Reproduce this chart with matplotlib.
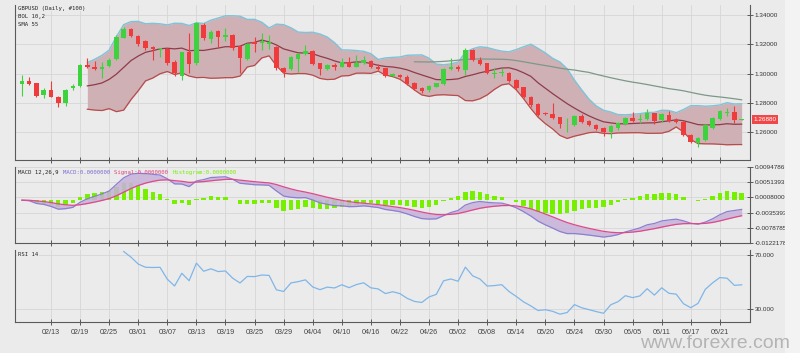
import numpy as np
import pandas as pd
import matplotlib
matplotlib.use('Agg')
import matplotlib.pyplot as plt
from matplotlib.patches import Rectangle
from matplotlib.ticker import FixedLocator, FuncFormatter

# ---------------- data ----------------
opens = [1.2927, 1.2951, 1.2933, 1.2854, 1.2888, 1.2842, 1.2797, 1.2900, 1.2915, 1.3058,
         1.3046, 1.3031, 1.3053, 1.3097, 1.3244, 1.3301, 1.3257, 1.3223, 1.3178, 1.3165,
         1.3165, 1.3080, 1.2983, 1.3144, 1.3070, 1.3330, 1.3233, 1.3291, 1.3250, 1.3262,
         1.3187, 1.3099, 1.3214, 1.3211, 1.3201, 1.3182, 1.3036, 1.3029, 1.3097, 1.3131,
         1.3153, 1.3070, 1.3029, 1.3060, 1.3046, 1.3078, 1.3046, 1.3073, 1.3087, 1.3046,
         1.3036, 1.2983, 1.2988, 1.2974, 1.2933, 1.2900, 1.2888, 1.2911, 1.2929, 1.3029,
         1.3046, 1.3024, 1.3160, 1.3092, 1.3070, 1.2997, 1.3001, 1.3005, 1.2956, 1.2906,
         1.2842, 1.2793, 1.2734, 1.2723, 1.2702, 1.2662, 1.2650, 1.2713, 1.2677, 1.2650,
         1.2628, 1.2600, 1.2628, 1.2657, 1.2696, 1.2682, 1.2689, 1.2729, 1.2684, 1.2718,
         1.2684, 1.2672, 1.2582, 1.2526, 1.2548, 1.2628, 1.2689, 1.2734, 1.2740, 1.2686]
highs = [1.2990, 1.2974, 1.2938, 1.2900, 1.2951, 1.2847, 1.2893, 1.2929, 1.3063, 1.3104,
         1.3087, 1.3080, 1.3106, 1.3262, 1.3318, 1.3313, 1.3262, 1.3229, 1.3187, 1.3171,
         1.3171, 1.3092, 1.3148, 1.3278, 1.3352, 1.3341, 1.3296, 1.3296, 1.3307, 1.3270,
         1.3194, 1.3208, 1.3250, 1.3273, 1.3262, 1.3187, 1.3046, 1.3121, 1.3138, 1.3194,
         1.3160, 1.3073, 1.3063, 1.3073, 1.3104, 1.3111, 1.3126, 1.3121, 1.3092, 1.3063,
         1.3039, 1.3007, 1.2997, 1.2990, 1.2944, 1.2911, 1.2922, 1.2938, 1.3039, 1.3104,
         1.3056, 1.3171, 1.3165, 1.3114, 1.3073, 1.3036, 1.3036, 1.3012, 1.2962, 1.2911,
         1.2847, 1.2800, 1.2740, 1.2802, 1.2706, 1.2695, 1.2718, 1.2722, 1.2684, 1.2654,
         1.2638, 1.2650, 1.2672, 1.2702, 1.2740, 1.2728, 1.2757, 1.2734, 1.2734, 1.2747,
         1.2695, 1.2677, 1.2589, 1.2567, 1.2657, 1.2706, 1.2752, 1.2763, 1.2778, 1.2690]
lows = [1.2847, 1.2920, 1.2838, 1.2831, 1.2838, 1.2770, 1.2779, 1.2888, 1.2910, 1.3035,
        1.3024, 1.2967, 1.3046, 1.3092, 1.3240, 1.3250, 1.3189, 1.3162, 1.3092, 1.3114,
        1.3060, 1.2983, 1.2956, 1.3001, 1.3058, 1.3228, 1.3210, 1.3182, 1.3223, 1.3162,
        1.3001, 1.3092, 1.3148, 1.3160, 1.3165, 1.3024, 1.2974, 1.3022, 1.3012, 1.3126,
        1.3058, 1.2990, 1.3022, 1.3022, 1.3042, 1.3042, 1.3042, 1.3065, 1.3036, 1.3024,
        1.2974, 1.2977, 1.2972, 1.2922, 1.2888, 1.2870, 1.2876, 1.2906, 1.2922, 1.3024,
        1.3020, 1.2990, 1.3087, 1.3058, 1.2997, 1.2967, 1.2980, 1.2944, 1.2891, 1.2831,
        1.2774, 1.2711, 1.2716, 1.2689, 1.2628, 1.2604, 1.2643, 1.2662, 1.2640, 1.2616,
        1.2575, 1.2560, 1.2616, 1.2650, 1.2672, 1.2662, 1.2684, 1.2655, 1.2672, 1.2668,
        1.2662, 1.2575, 1.2530, 1.2498, 1.2541, 1.2621, 1.2684, 1.2713, 1.2666, 1.2684]
closes = [1.2949, 1.2929, 1.2849, 1.2888, 1.2842, 1.2797, 1.2888, 1.2917, 1.3058, 1.3042,
          1.3031, 1.3046, 1.3092, 1.3246, 1.3301, 1.3257, 1.3199, 1.3171, 1.3169, 1.3171,
          1.3070, 1.3001, 1.3144, 1.3063, 1.3341, 1.3240, 1.3284, 1.3250, 1.3260, 1.3171,
          1.3108, 1.3201, 1.3199, 1.3221, 1.3217, 1.3036, 1.3012, 1.3114, 1.3131, 1.3153,
          1.3065, 1.3029, 1.3056, 1.3046, 1.3078, 1.3046, 1.3075, 1.3092, 1.3042, 1.3031,
          1.2983, 1.2997, 1.2978, 1.2929, 1.2895, 1.2883, 1.2917, 1.2933, 1.3031, 1.3046,
          1.3029, 1.3160, 1.3092, 1.3065, 1.3001, 1.3005, 1.3012, 1.2951, 1.2900, 1.2838,
          1.2786, 1.2718, 1.2723, 1.2700, 1.2657, 1.2666, 1.2711, 1.2672, 1.2648, 1.2623,
          1.2600, 1.2645, 1.2662, 1.2696, 1.2679, 1.2688, 1.2729, 1.2679, 1.2723, 1.2679,
          1.2672, 1.2582, 1.2536, 1.2560, 1.2650, 1.2700, 1.2745, 1.2740, 1.2684, 1.2688]
tick_labels = ['02/13', '02/19', '02/25', '03/01', '03/07', '03/13', '03/19', '03/25',
               '03/29', '04/04', '04/10', '04/16', '04/22', '04/26', '05/02', '05/08',
               '05/14', '05/20', '05/24', '05/30', '06/05', '06/11', '06/17', '06/21']
price_ticks = [1.26, 1.28, 1.30, 1.32, 1.34]
macd_ticks = [-0.0122178, -0.0078785, -0.0035393, 0.0008000, 0.0051393, 0.0094786]
rsi_ticks = [30, 70]
last_price = 1.26880

# ---------------- indicators derived from the closes ----------------
c = pd.Series(closes)
n = len(closes)
xs = np.arange(n)
tick_pos = np.arange(4, n, 4)[:len(tick_labels)]

bb_mid = c.rolling(10).mean()
bb_std = c.rolling(10).std(ddof=0)
bb_up = bb_mid + 2 * bb_std
bb_lo = bb_mid - 2 * bb_std
sma55 = c.rolling(55).mean()

ema12 = c.ewm(span=12, adjust=False).mean()
ema26 = c.ewm(span=26, adjust=False).mean()
macd = ema12 - ema26
signal = macd.ewm(span=9, adjust=False).mean()
hist = 1.2 * (macd - signal)

delta = c.diff()
gain = delta.clip(lower=0)
loss = (-delta).clip(lower=0)
ag_v = np.full(n, np.nan); al_v = np.full(n, np.nan)
ag_v[14] = gain[1:15].mean(); al_v[14] = loss[1:15].mean()
for i in range(15, n):
    ag_v[i] = (ag_v[i - 1] * 13 + gain[i]) / 14
    al_v[i] = (al_v[i - 1] * 13 + loss[i]) / 14
rsi = 100 - 100 / (1 + ag_v / al_v)

# ---------------- figure ----------------
BG = '#ebebeb'
GRID = '#d6d6d6'
SPINE = '#5a5a5a'
W, H = 800, 353
fig = plt.figure(figsize=(W / 100, H / 100), dpi=100)
fig.patch.set_facecolor(BG)

def add_ax(top_px, bot_px):
    return fig.add_axes([15 / W, 1 - bot_px / H, 735 / W, (bot_px - top_px) / H])

ax1 = add_ax(5, 160)
ax2 = add_ax(166.7, 243.3)
ax3 = add_ax(250, 321.7)

for ax in (ax1, ax2, ax3):
    ax.set_facecolor(BG)
    ax.set_xlim(-0.95, 100.15)
    ax.spines['top'].set_visible(False)
    for s in ('left', 'right', 'bottom'):
        ax.spines[s].set_color(SPINE)
        ax.spines[s].set_linewidth(0.8)
    ax.yaxis.tick_right()
    ax.xaxis.set_major_locator(FixedLocator(tick_pos))
    ax.tick_params(axis='both', direction='inout', length=4, width=0.7, color=SPINE,
                   labelsize=4.6, labelcolor='#333333', pad=1.5)
    ax.grid(True, color=GRID, linewidth=0.6)
    ax.set_axisbelow(True)
    ax.set_xticklabels([])

ax3.set_xticklabels(tick_labels, fontsize=5.2, fontfamily='Liberation Sans', color='#444444')
ax3.tick_params(axis='x', pad=3)

# ---- price panel ----
ax1.set_ylim(1.2412, 1.3466)
ax1.yaxis.set_major_locator(FixedLocator(price_ticks))
ax1.yaxis.set_major_formatter(FuncFormatter(lambda v, p: f'{v:.5f}'))
ax1.fill_between(xs, bb_lo, bb_up, color='#cfb0b5', linewidth=0, zorder=1)
ax1.plot(xs, bb_up, color='#7ec3d8', lw=1.0, zorder=2)
ax1.plot(xs, bb_lo, color='#b84b4b', lw=0.9, zorder=2)
ax1.plot(xs, bb_mid, color='#8e3c4a', lw=0.9, zorder=2)
ax1.plot(xs, sma55, color='#7d9888', lw=0.9, zorder=2)

GREEN = '#3ed23e'
RED = '#ef3b3b'
o = np.array(opens); cl = np.array(closes); hi = np.array(highs); lo = np.array(lows)
cols = [GREEN if cl[i] >= o[i] else RED for i in range(n)]
ax1.vlines(xs, lo, hi, colors=cols, linewidth=0.8, zorder=3)
bottoms = np.minimum(o, cl)
heights = np.maximum(np.abs(cl - o), 0.00015)
ax1.bar(xs, heights, bottom=bottoms, width=0.62, color=cols, linewidth=0, zorder=4)

ax1.text(1.005, last_price, f'{last_price:.5f}', transform=ax1.get_yaxis_transform(),
         fontsize=4.6, color='white', va='center', ha='left', family='Liberation Sans',
         bbox=dict(facecolor='#f04848', edgecolor='none', pad=1.2), zorder=10, clip_on=False)

mono = 'DejaVu Sans Mono'
for k, t in enumerate(['GBPUSD (Daily, #100)', 'BOL 10,2', 'SMA 55']):
    ax1.text(3 / 735, 1 - (3.3 + 8.2 * k) / 155, t, transform=ax1.transAxes, fontsize=4.1,
             family=mono, color='#222222', va='center', ha='left',
             bbox=dict(facecolor=BG, edgecolor='none', pad=0.3), zorder=6)

# ---- MACD panel ----
ax2.set_ylim(macd_ticks[0], macd_ticks[-1])
ax2.yaxis.set_major_locator(FixedLocator(macd_ticks))
ax2.yaxis.set_major_formatter(FuncFormatter(lambda v, p: f'{v:.7f}'))
ax2.bar(xs, hist, width=0.6, color='#77f000', linewidth=0, zorder=2)
ax2.fill_between(xs, macd, signal, color='#c6b2da', alpha=0.85, linewidth=0, zorder=3)
ax2.plot(xs, macd, color='#8c7fd0', lw=0.9, zorder=4)
ax2.plot(xs, signal, color='#e0488a', lw=0.9, zorder=4)

parts = [('MACD 12,26,9 ', '#222222'), ('MACD:0.0000000 ', '#7a6ad0'),
         ('Signal:0.0000000 ', '#e0407a'), ('Histogram:0.0000000', '#77f000')]
x0 = 3 / 735
fs = 4.1
cw = 0.602 * fs / 72 * 100 / 735
for t, col in parts:
    ax2.text(x0, 1 - 5.6 / 76.6, t, transform=ax2.transAxes, fontsize=fs, family=mono,
             color=col, va='center', ha='left', zorder=6)
    x0 += len(t) * cw

# ---- RSI panel ----
ax3.set_ylim(20.9, 73.44)
ax3.yaxis.set_major_locator(FixedLocator(rsi_ticks))
ax3.yaxis.set_major_formatter(FuncFormatter(lambda v, p: f'{v:.3f}'))
ax3.plot(xs, rsi, color='#7fb6e8', lw=0.9, zorder=3)
ax3.text(3 / 735, 1 - 4.7 / 71.7, 'RSI 14', transform=ax3.transAxes, fontsize=4.1,
         family=mono, color='#222222', va='center', ha='left',
         bbox=dict(facecolor=BG, edgecolor='none', pad=0.6), zorder=6)

for ax in (ax1, ax2, ax3):
    for lab in ax.get_yticklabels():
        lab.set_family('Liberation Sans')

# right strip outside the widget
fig.patches.append(Rectangle((785 / W, 0), 15 / W, 1, transform=fig.transFigure,
                             facecolor='#f3f3f3', edgecolor='none', zorder=20))
fig.text(790 / W, 1 - 348.5 / H, 'www.forexre.com', fontsize=14, color='#b4b4b4',
         ha='right', va='baseline', family='Liberation Sans', zorder=25)

fig.savefig('out.png', dpi=100, facecolor=fig.get_facecolor())
